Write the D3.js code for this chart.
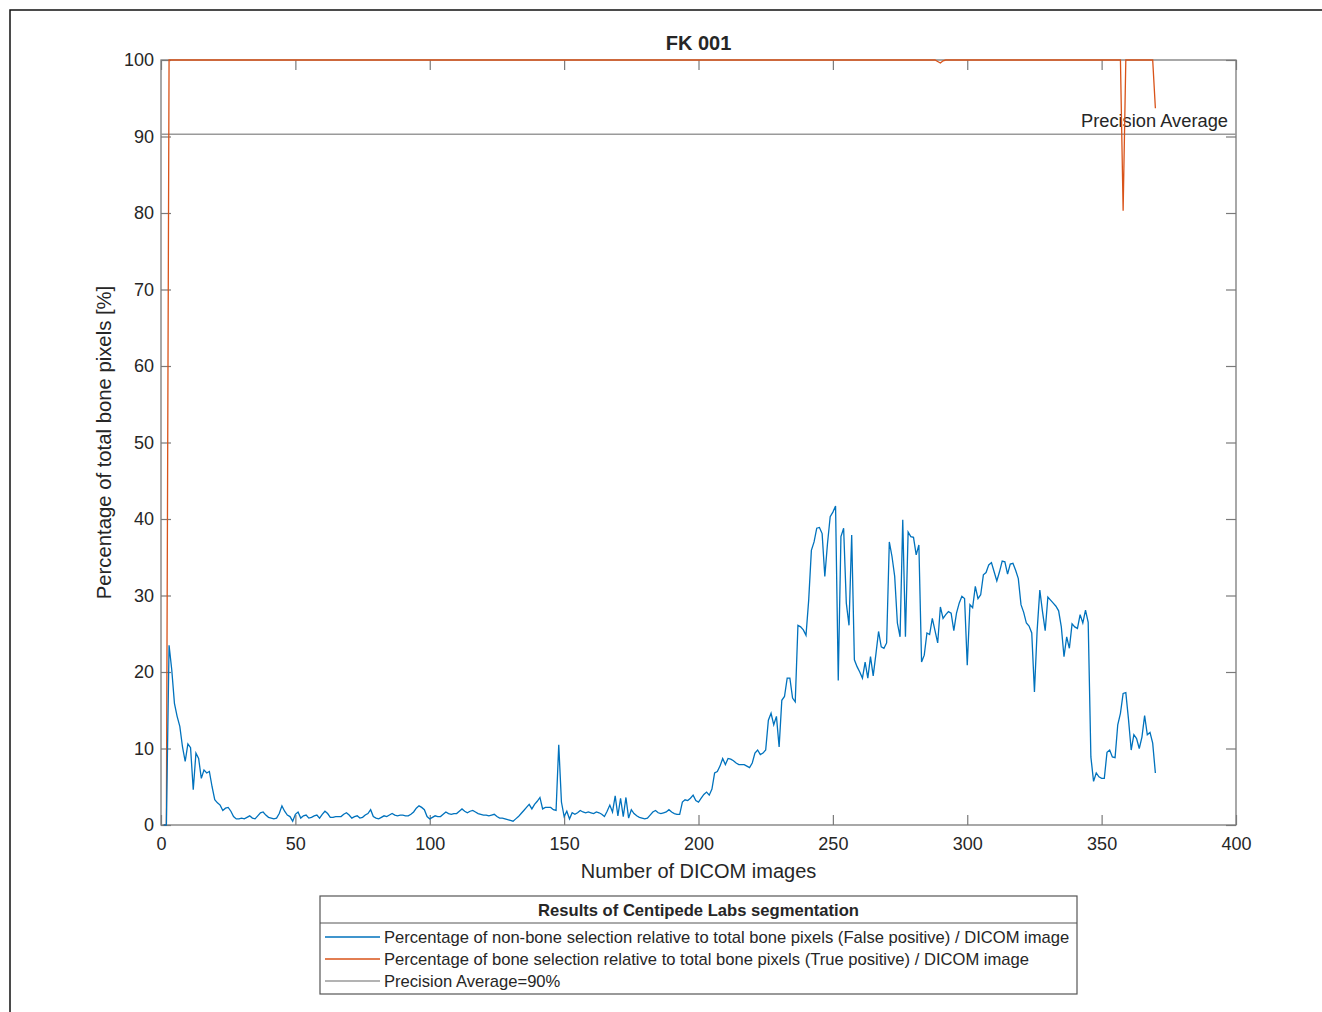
<!DOCTYPE html>
<meta charset="utf-8">
<style>
body { margin: 0; background: #fff; }
text { font-family: "Liberation Sans", Arial, sans-serif; fill: #262626; }
</style>
<body>
<script src="https://d3js.org/d3.v7.min.js"></script>
<script>

// data (image number 1..370)
var falsePositive = [
  0, 0, 23.5, 20.3, 15.9, 14.2, 12.9, 10.2, 8.3, 10.6, 10.1, 4.6, 9.4, 8.7, 6.1, 7.2, 6.8, 7.0, 5.0, 3.3,
  2.9, 2.6, 1.9, 2.2, 2.3, 1.8, 1.1, 0.8, 0.8, 0.9, 0.8, 1.0, 1.2, 0.9, 0.8, 1.2, 1.6, 1.7, 1.3, 1.0,
  0.9, 0.8, 0.9, 1.5, 2.5, 1.8, 1.3, 1.1, 0.5, 1.4, 1.7, 0.9, 1.2, 1.3, 0.9, 1.0, 1.2, 1.3, 0.9, 1.4,
  1.8, 1.5, 1.0, 1.0, 1.1, 1.1, 1.1, 1.4, 1.6, 1.3, 0.9, 1.1, 1.2, 0.9, 1.0, 1.3, 1.5, 2.0, 1.1, 0.9,
  0.8, 1.0, 1.2, 1.1, 1.3, 1.5, 1.3, 1.2, 1.3, 1.3, 1.2, 1.2, 1.4, 1.7, 2.2, 2.5, 2.3, 2.0, 1.1, 0.8,
  1.0, 1.2, 1.1, 1.1, 1.4, 1.7, 1.5, 1.4, 1.5, 1.5, 1.8, 2.1, 1.8, 1.6, 1.8, 1.9, 1.7, 1.5, 1.4, 1.3,
  1.3, 1.2, 1.3, 1.4, 1.1, 0.9, 0.9, 0.8, 0.7, 0.6, 0.5, 0.8, 1.1, 1.5, 1.9, 2.3, 2.7, 2.1, 2.7, 3.1,
  3.6, 2.1, 2.3, 2.3, 2.3, 2.0, 1.9, 10.5, 3.0, 1.1, 1.8, 0.8, 1.6, 1.4, 1.6, 1.9, 1.7, 1.6, 1.7, 1.6,
  1.5, 1.7, 1.6, 1.4, 1.1, 1.8, 2.6, 1.7, 3.8, 1.2, 3.5, 1.1, 3.6, 0.9, 2.0, 1.5, 1.2, 1.0, 0.9, 0.8,
  0.9, 1.3, 1.7, 1.9, 1.6, 1.5, 1.6, 1.7, 2.0, 1.7, 1.5, 1.4, 1.4, 3.0, 3.3, 3.2, 3.5, 3.9, 3.2, 3.0,
  3.5, 4.0, 4.3, 3.9, 4.7, 6.8, 7.0, 7.7, 8.7, 7.9, 8.7, 8.6, 8.4, 8.1, 7.9, 7.9, 7.9, 7.7, 7.5, 8.1,
  9.4, 9.8, 9.2, 9.4, 9.8, 13.7, 14.6, 13.1, 14.2, 10.2, 16.3, 16.8, 19.2, 19.2, 16.6, 16.1, 26.1, 25.9, 25.5, 24.8,
  29.4, 35.9, 37.0, 38.8, 38.9, 38.1, 32.5, 36.8, 40.3, 40.9, 41.7, 18.9, 37.7, 38.8, 29.0, 26.1, 37.9, 21.6, 20.7, 20.0,
  19.2, 21.3, 19.2, 22.0, 19.5, 22.3, 25.3, 23.3, 23.1, 23.8, 37.0, 35.1, 32.5, 26.4, 24.6, 39.9, 24.6, 38.3, 37.7, 37.6,
  35.3, 36.6, 21.3, 22.2, 25.1, 24.9, 27.0, 25.4, 23.8, 28.5, 27.0, 27.5, 27.9, 27.7, 25.4, 27.7, 29.0, 29.9, 29.6, 20.9,
  28.8, 28.4, 31.2, 29.6, 30.1, 32.7, 33.0, 34.0, 34.3, 33.1, 31.9, 33.1, 34.5, 34.4, 32.8, 34.1, 34.2, 33.3, 32.2, 28.8,
  27.8, 26.4, 26.0, 25.1, 17.4, 25.4, 30.7, 27.9, 25.4, 29.8, 29.4, 29.0, 28.6, 28.0, 25.9, 22.0, 24.6, 23.1, 26.3, 25.9,
  25.7, 27.5, 26.4, 28.1, 26.5, 8.9, 5.7, 6.8, 6.3, 6.1, 6.1, 9.5, 9.8, 8.9, 8.8, 13.1, 14.6, 17.2, 17.3, 13.8,
  9.8, 11.8, 11.3, 10.0, 11.5, 14.3, 11.8, 12.1, 10.7, 6.8
];

var truePositive = [
  0, 0, 100, 100, 100, 100, 100, 100, 100, 100, 100, 100, 100, 100, 100, 100, 100, 100, 100, 100,
  100, 100, 100, 100, 100, 100, 100, 100, 100, 100, 100, 100, 100, 100, 100, 100, 100, 100, 100, 100,
  100, 100, 100, 100, 100, 100, 100, 100, 100, 100, 100, 100, 100, 100, 100, 100, 100, 100, 100, 100,
  100, 100, 100, 100, 100, 100, 100, 100, 100, 100, 100, 100, 100, 100, 100, 100, 100, 100, 100, 100,
  100, 100, 100, 100, 100, 100, 100, 100, 100, 100, 100, 100, 100, 100, 100, 100, 100, 100, 100, 100,
  100, 100, 100, 100, 100, 100, 100, 100, 100, 100, 100, 100, 100, 100, 100, 100, 100, 100, 100, 100,
  100, 100, 100, 100, 100, 100, 100, 100, 100, 100, 100, 100, 100, 100, 100, 100, 100, 100, 100, 100,
  100, 100, 100, 100, 100, 100, 100, 100, 100, 100, 100, 100, 100, 100, 100, 100, 100, 100, 100, 100,
  100, 100, 100, 100, 100, 100, 100, 100, 100, 100, 100, 100, 100, 100, 100, 100, 100, 100, 100, 100,
  100, 100, 100, 100, 100, 100, 100, 100, 100, 100, 100, 100, 100, 100, 100, 100, 100, 100, 100, 100,
  100, 100, 100, 100, 100, 100, 100, 100, 100, 100, 100, 100, 100, 100, 100, 100, 100, 100, 100, 100,
  100, 100, 100, 100, 100, 100, 100, 100, 100, 100, 100, 100, 100, 100, 100, 100, 100, 100, 100, 100,
  100, 100, 100, 100, 100, 100, 100, 100, 100, 100, 100, 100, 100, 100, 100, 100, 100, 100, 100, 100,
  100, 100, 100, 100, 100, 100, 100, 100, 100, 100, 100, 100, 100, 100, 100, 100, 100, 100, 100, 100,
  100, 100, 100, 100, 100, 100, 100, 100, 99.8, 99.6, 99.9, 100, 100, 100, 100, 100, 100, 100, 100, 100,
  100, 100, 100, 100, 100, 100, 100, 100, 100, 100, 100, 100, 100, 100, 100, 100, 100, 100, 100, 100,
  100, 100, 100, 100, 100, 100, 100, 100, 100, 100, 100, 100, 100, 100, 100, 100, 100, 100, 100, 100,
  100, 100, 100, 100, 100, 100, 100, 100, 100, 100, 100, 100, 100, 100, 100, 100, 100, 80.3, 100, 100,
  100, 100, 100, 100, 100, 100, 100, 100, 100, 93.7
];

var precisionAverage = 90.3;
var xTicks = [0, 50, 100, 150, 200, 250, 300, 350, 400];
var yTicks = [0, 10, 20, 30, 40, 50, 60, 70, 80, 90, 100];
var legendTitle = "Results of Centipede Labs segmentation";
var legendLabels = [
  "Percentage of non-bone selection relative to total bone pixels (False positive) / DICOM image",
  "Percentage of bone selection relative to total bone pixels (True positive) / DICOM image",
  "Precision Average=90%"
];
var colors = ["#0072BD", "#D95319", "#9a9a9a"];

// plot area
var margin = {top: 60, left: 161},
    width = 1075,
    height = 765;

var x = d3.scaleLinear().domain([0, 400]).range([0, width]);
var y = d3.scaleLinear().domain([0, 100]).range([height, 0]);

var svg = d3.select("body").append("svg")
    .attr("width", 1322)
    .attr("height", 1012);

// outer figure frame
svg.append("rect")
    .attr("x", 10).attr("y", 10)
    .attr("width", 1340).attr("height", 1040)
    .attr("fill", "none")
    .attr("stroke", "#111")
    .attr("stroke-width", 1.5);

var g = svg.append("g")
    .attr("transform", "translate(" + margin.left + "," + margin.top + ")");

// axes with inward ticks on all four sides
function styleAxis(sel) {
  sel.select(".domain").remove();
  sel.selectAll(".tick line").attr("stroke", "#7a7a7a").attr("stroke-width", 1.2);
  sel.selectAll("text")
      .style("font-size", "18px")
      .style("font-family", "'Liberation Sans', Arial, sans-serif")
      .attr("fill", "#262626");
}

g.append("g")
    .attr("transform", "translate(0," + height + ")")
    .call(d3.axisBottom(x).tickValues(xTicks).tickSize(-10).tickPadding(12).tickFormat(d3.format("d")))
    .call(styleAxis);

g.append("g")
    .call(d3.axisTop(x).tickValues(xTicks).tickSize(-10).tickFormat(""))
    .call(styleAxis);

g.append("g")
    .call(d3.axisLeft(y).tickValues(yTicks).tickSize(-10).tickPadding(7).tickFormat(d3.format("d")))
    .call(styleAxis);

g.append("g")
    .attr("transform", "translate(" + width + ",0)")
    .call(d3.axisRight(y).tickValues(yTicks).tickSize(-10).tickFormat(""))
    .call(styleAxis);

// box
g.append("rect")
    .attr("width", width).attr("height", height)
    .attr("fill", "none")
    .attr("stroke", "#7a7a7a")
    .attr("stroke-width", 1.3);

// precision average line
g.append("line")
    .attr("x1", 0).attr("x2", width)
    .attr("y1", y(precisionAverage)).attr("y2", y(precisionAverage))
    .attr("stroke", colors[2])
    .attr("stroke-width", 1.5);

g.append("text")
    .attr("x", width - 8)
    .attr("y", y(precisionAverage) - 7)
    .attr("text-anchor", "end")
    .style("font-size", "18.3px")
    .text("Precision Average");

var line = d3.line()
    .x(function(d, i) { return x(i + 1); })
    .y(function(d) { return y(d); });

g.append("path")
    .datum(truePositive)
    .attr("fill", "none")
    .attr("stroke", colors[1])
    .attr("stroke-width", 1.3)
    .attr("d", line);

g.append("path")
    .datum(falsePositive)
    .attr("fill", "none")
    .attr("stroke", colors[0])
    .attr("stroke-width", 1.3)
    .attr("d", line);

// title and axis labels
g.append("text")
    .attr("x", width / 2).attr("y", -10)
    .attr("text-anchor", "middle")
    .style("font-size", "20px")
    .style("font-weight", "bold")
    .text("FK 001");

g.append("text")
    .attr("x", width / 2).attr("y", height + 53)
    .attr("text-anchor", "middle")
    .style("font-size", "20px")
    .text("Number of DICOM images");

g.append("text")
    .attr("text-anchor", "middle")
    .attr("transform", "translate(-50," + (height / 2) + ")rotate(-90)")
    .style("font-size", "20.3px")
    .text("Percentage of total bone pixels [%]");

// legend
var lg = svg.append("g").attr("transform", "translate(320,896)");

lg.append("rect")
    .attr("width", 757).attr("height", 98)
    .attr("fill", "#fff")
    .attr("stroke", "#555")
    .attr("stroke-width", 1.2);

lg.append("line")
    .attr("x1", 0).attr("x2", 757)
    .attr("y1", 27).attr("y2", 27)
    .attr("stroke", "#555")
    .attr("stroke-width", 1);

lg.append("text")
    .attr("x", 757 / 2).attr("y", 20)
    .attr("text-anchor", "middle")
    .style("font-size", "16.6px")
    .style("font-weight", "bold")
    .text(legendTitle);

legendLabels.forEach(function(label, i) {
  var ly = 41 + i * 22;
  lg.append("line")
      .attr("x1", 5).attr("x2", 60)
      .attr("y1", ly).attr("y2", ly)
      .attr("stroke", colors[i])
      .attr("stroke-width", 1.3);
  lg.append("text")
      .attr("x", 64).attr("y", ly + 6)
      .style("font-size", "16.6px")
      .text(label);
});

</script>
</body>
